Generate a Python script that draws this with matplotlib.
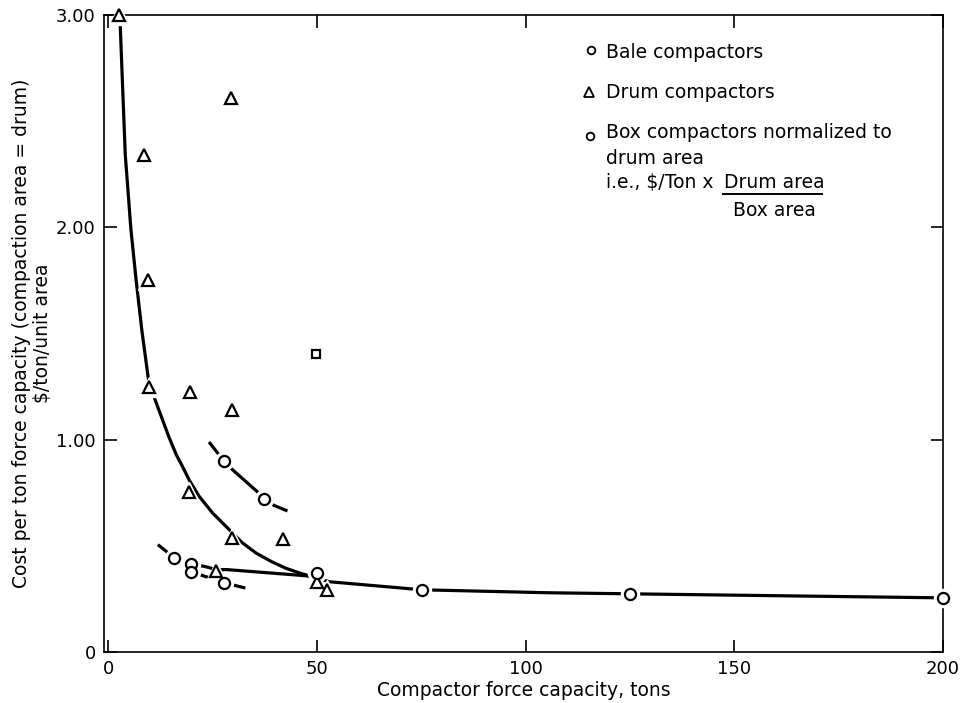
import matplotlib
matplotlib.use("Agg")
import matplotlib.pyplot as plt

# drum compactors (triangles)
drum_x = [2.6, 8.6, 9.6, 9.8, 29.4, 19.6, 29.7, 19.4, 29.7, 41.9, 25.8, 50.0, 52.4]
drum_y = [3.00, 2.34, 1.75, 1.25, 2.61, 1.225, 1.14, 0.752, 0.539, 0.53, 0.383, 0.331, 0.293]

# bale compactors (circles on the long curve)
bale_x = [50.0, 75.1, 125.1, 200.0]
bale_y = [0.373, 0.293, 0.274, 0.255]

# box compactors normalized to drum area
box_x = [27.8, 37.3, 15.8, 19.9, 19.9, 27.8]
box_y = [0.898, 0.719, 0.444, 0.416, 0.378, 0.326]

# odd point drawn as a small square
sq_x = [49.8]
sq_y = [1.404]

# curves
drum_curve_x = [2.9, 3.5, 4.1, 4.8, 5.4, 6.7, 8.1, 9.6, 11.2, 12.9, 14.6, 16.3, 17.9, 19.4,
                21.8, 25.0, 28.5, 32.1, 35.5, 39.2, 42.5, 45.7, 48.8, 50.0]
drum_curve_y = [2.946, 2.64, 2.34, 2.16, 2.0, 1.75, 1.51, 1.29, 1.19, 1.10, 1.01, 0.93, 0.87, 0.81,
                0.733, 0.655, 0.586, 0.515, 0.465, 0.425, 0.395, 0.373, 0.355, 0.35]

low_curve_x = [12.2, 15.8, 19.9, 23.7, 25.8, 28.5, 47.4, 50.0, 52.9, 75.1, 105.5, 125.1, 200.0]
low_curve_y = [0.501, 0.444, 0.416, 0.40, 0.388, 0.388, 0.359, 0.35, 0.331, 0.293, 0.279, 0.274, 0.255]

upper_dash_x = [24.4, 27.8, 29.7, 35.6, 37.3, 39.2, 42.6]
upper_dash_y = [0.983, 0.898, 0.86, 0.757, 0.719, 0.695, 0.667]

lower_dash_x = [19.9, 27.8, 32.5]
lower_dash_y = [0.378, 0.326, 0.303]

x_ticks = [0, 50, 100, 150, 200]
x_tick_labels = ["0", "50", "100", "150", "200"]
y_ticks = [0, 1, 2, 3]
y_tick_labels = ["0", "1.00", "2.00", "3.00"]


def markers(ax, x, y, m, ms):
    # white halo first so the lines break around each symbol
    ax.plot(x, y, ls="none", marker=m, ms=ms + 5, mfc="white", mec="white",
            zorder=3, clip_on=False)
    ax.plot(x, y, ls="none", marker=m, ms=ms, mfc="white", mec="black",
            mew=1.6, zorder=4, clip_on=False)


def main():
    plt.rcParams["font.family"] = ["DejaVu Sans"]
    fig = plt.figure(figsize=(9.68, 7.03), dpi=100)
    ax = fig.add_axes([104 / 968, 1 - 652 / 703, (943 - 104) / 968, (652 - 15) / 703])

    lw = 2.3
    for xs, ys in [(drum_curve_x, drum_curve_y), (low_curve_x, low_curve_y),
                   (upper_dash_x, upper_dash_y), (lower_dash_x, lower_dash_y)]:
        ax.plot(xs, ys, color="black", lw=lw, zorder=2, solid_joinstyle="round")

    markers(ax, drum_x, drum_y, "^", 9)
    markers(ax, bale_x, bale_y, "o", 8)
    markers(ax, box_x, box_y, "o", 8)
    markers(ax, sq_x, sq_y, "s", 6)

    ax.set_xlim(-1, 200)
    ax.set_ylim(0, 3.0)
    ax.set_xticks(x_ticks)
    ax.set_xticklabels(x_tick_labels)
    ax.set_yticks(y_ticks)
    ax.set_yticklabels(y_tick_labels)
    ax.tick_params(direction="in", length=9, width=1.2, top=True, right=True,
                   labelsize=13, pad=6)
    for s in ax.spines.values():
        s.set_linewidth(1.2)

    ax.set_xlabel("Compactor force capacity, tons", fontsize=13.5, labelpad=2)
    ax.set_ylabel("Cost per ton force capacity (compaction area = drum)\n\\$/ton/unit area",
                  fontsize=13.5, linespacing=1.1)
    ax.yaxis.set_label_coords(-0.062, 0.5)

    # hand drawn key in the upper right
    T = ax.transAxes
    fs = 13.5

    def fx(px):
        return (px - 104) / 839

    def fy(py):
        return (652 - py) / 637

    ax.plot([fx(591)], [fy(50)], transform=T, ls="none", marker="o", ms=5.5,
            mfc="white", mec="black", mew=1.3)
    ax.text(fx(606), fy(53), "Bale compactors", transform=T, fontsize=fs, va="center")
    ax.plot([fx(589)], [fy(92)], transform=T, ls="none", marker="^", ms=6.5,
            mfc="white", mec="black", mew=1.3)
    ax.text(fx(606), fy(92), "Drum compactors", transform=T, fontsize=fs, va="center")
    ax.plot([fx(590)], [fy(136)], transform=T, ls="none", marker="o", ms=5.5,
            mfc="white", mec="black", mew=1.3)
    ax.text(fx(606), fy(133), "Box compactors normalized to", transform=T, fontsize=fs, va="center")
    ax.text(fx(606), fy(158), "drum area", transform=T, fontsize=fs, va="center")
    ax.text(fx(606), fy(183), "i.e., \\$/Ton x", transform=T, fontsize=fs, va="center")
    ax.text(fx(724), fy(183), "Drum area", transform=T, fontsize=fs, va="center")
    ax.plot([fx(723), fx(822)], [fy(194), fy(194)], transform=T, color="black", lw=1.4)
    ax.text(fx(733), fy(210), "Box area", transform=T, fontsize=fs, va="center")

    fig.savefig("out.png", dpi=100)


if __name__ == "__main__":
    main()
